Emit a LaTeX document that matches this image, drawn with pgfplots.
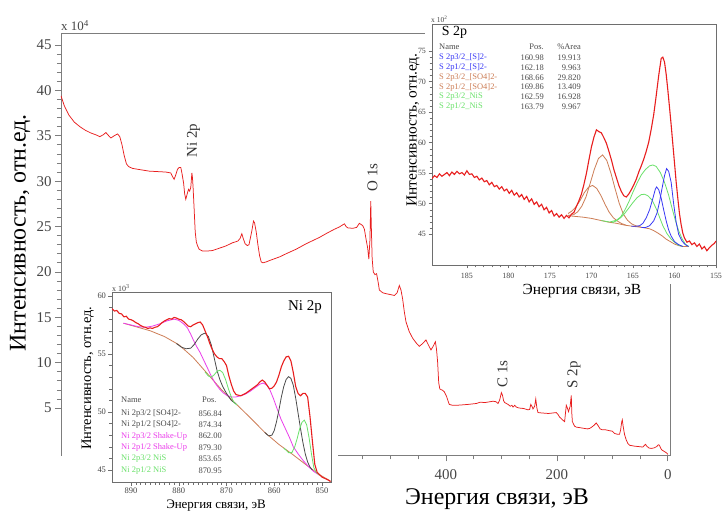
\documentclass[border=0pt]{standalone}
\usepackage{fontspec}
\setmainfont{Liberation Serif}
\usepackage{pgfplots}
\pgfplotsset{compat=1.18}
\definecolor{curvered}{RGB}{232,30,30}
\definecolor{axgray}{RGB}{125,125,125}
\definecolor{insgray}{RGB}{110,110,110}
\definecolor{tlab}{RGB}{70,70,70}
\definecolor{bgbrown}{RGB}{205,125,85}
\definecolor{cblue}{RGB}{55,55,245}
\definecolor{cgreen}{RGB}{105,225,105}
\definecolor{cmag}{RGB}{235,60,235}
\definecolor{cdark}{RGB}{75,75,75}
\newcommand{\fs}[1]{\fontsize{#1}{#1}\selectfont}
\begin{document}
\begin{tikzpicture}
\useasboundingbox (0,0) rectangle (723bp,513bp);
% ---------------- main survey spectrum ----------------
\begin{axis}[
  at={(61bp,57.5bp)}, anchor=south west,
  scale only axis, width=609bp, height=422.5bp,
  x dir=reverse, xmin=-4, xmax=1094, ymin=-0.23, ymax=46.32,
  axis line style={draw=axgray, line width=0.8pt},
  tick style={draw=axgray, line width=0.7pt},
  tick align=outside, tick pos=left,
  major tick length=6bp, minor tick length=4bp,
  xtick={0,200,400},
  minor xtick={50,100,150,250,300,350,450,500,550,600,650,700,750,800,850,900,950,1000,1050},
  ytick={5,10,...,45}, minor y tick num=4,
  scaled ticks=false,
  /pgf/number format/assume math mode=true,
  tick label style={font=\fs{15}, text=tlab},
  xticklabel style={yshift=-5bp},
  xlabel={Энергия связи, эВ},
  ylabel={Интенсивность, отн.ед.},
  xlabel style={at={(axis description cs:0.716,-0.103)}, anchor=center, font=\fs{24}},
  ylabel style={at={(axis description cs:-0.067,0.527)}, anchor=center, font=\fs{24}},
]
\addplot[curvered, line width=0.75pt] coordinates {
(1094,39.4) (1088,38.3) (1080,37.3) (1070,36.5) (1060,36.0) (1050,35.6) (1040,35.3)
(1031,35.1) (1024,34.9) (1018,35.1) (1013,35.35) (1008,35.0) (1004,34.75) (998,35.0)
(992,35.2) (988,34.9) (984,34.0) (980,32.8) (976,31.9) (972,31.6) (965,31.4) (955,31.3)
(945,31.2) (935,31.1) (920,31.05) (905,31.0) (896,30.9) (893,30.5) (890,30.2) (887,30.7)
(884,31.3) (881,31.5) (878,31.5) (876,30.9) (873,29.8) (871,28.6) (869,28.0) (866,28.7)
(864,29.1) (862,28.9) (860,29.3) (858,30.9) (857,30.4) (856,29.5) (854,27.0) (852,24.4)
(850,23.3) (848,22.9) (845,22.5) (839,22.3) (830,22.3) (821,22.35) (809,22.6) (797,22.85)
(785,23.2) (775,23.4) (771,23.7) (768,24.2) (765,23.6) (762,23.1) (758,22.9) (755,23.0)
(750,24.5) (747,25.6) (745,25.4) (742,24.4) (739,23.0) (736,21.8) (733,21.1) (730,21.0)
(724,21.1) (718,21.25) (700,21.65) (688,22.0) (670,22.5) (652,23.1) (640,23.45) (628,23.8)
(615,24.25) (601,24.7) (592,24.95) (583,25.3) (580,25.0) (577,24.85) (568,24.8) (561,24.9)
(556,25.35) (550,25.1) (547,24.7) (544,23.6) (541,22.6) (539,21.4) (537,23.5) (535.5,27.8)
(534.5,25.0) (533,21.5) (531,20.0) (528,19.7) (525,19.8) (522,18.8) (520,18.0) (514,17.7)
(508,17.6) (500,17.5) (493,17.4) (488,17.7) (484,18.5) (481,18.0) (478,17.0) (475,15.6)
(472,14.5) (466,13.4) (460,12.7) (454,12.2) (448,11.8) (442,12.1) (436,12.5) (432,12.0)
(427,11.4) (423,11.8) (419,12.3) (417,11.5) (415,10.1) (413,7.8) (411,7.1) (406,6.95)
(403,6.8) (399,6.3) (394,5.4) (388,5.3) (381,5.3) (370,5.35) (360,5.4) (345,5.5)
(338,5.65) (330,5.6) (320,5.7) (315,5.75) (310,5.7) (306,5.5) (303,5.9) (300,6.7)
(298,6.4) (296,5.8) (294,5.6) (288,5.4) (284,5.2) (281,5.3) (279,5.1) (276,5.3) (273,5.1)
(268,5.0) (260,4.95) (252,4.8) (249,4.85) (247,5.4) (245,5.2) (243,4.9) (240,5.2) (238,6.0)
(236,5.0) (234,4.5) (226,4.45) (215,4.4) (208,4.45) (201,4.5) (198,4.3) (195,4.0) (190,3.7)
(186,3.5) (184,4.7) (183,5.3) (181,5.0) (179,4.6) (176,5.2) (174,6.4) (173,4.4) (172,3.5)
(168,3.0) (165,2.9) (155,2.8) (145,2.7) (141,2.75) (137,2.9) (133,3.1) (129,3.35) (126,3.1)
(122,2.7) (118,2.6) (112,2.6) (105,2.5) (100,2.45) (96,2.2) (90,2.1) (87,2.1) (85,2.6)
(83,3.5) (82,3.7) (80.5,3.0) (78,2.1) (75,1.5) (72,1.1) (69,0.9) (60,0.8) (52,0.75) (45,0.7)
(42,0.9) (40,1.0) (38,0.8) (34,0.6) (30,0.55) (25,0.6) (20,0.75) (17,0.95) (15,0.9) (13,0.6)
(11,0.4) (6,0.2) (2,0.05) (0,-0.1)
};
\end{axis}
\node[anchor=base west, font=\fs{13}, text=tlab, inner sep=0] at (61bp,482bp) {x 10\textsuperscript{4}};
\node[rotate=90, font=\fs{15}, text=black!80] at (193.5bp,372.5bp) {Ni 2p};
\node[rotate=90, font=\fs{15}, text=black!80] at (372.5bp,335.5bp) {O 1s};
\node[rotate=90, font=\fs{15}, text=black!80] at (502.5bp,139bp) {C 1s};
\node[rotate=90, font=\fs{15}, text=black!80] at (574bp,138bp) {S 2p};
% white backgrounds of the insets
\fill[white] (425bp,229bp) rectangle (723bp,513bp);
\fill[white] (62bp,0bp) rectangle (338bp,234bp);
% ---------------- S 2p inset ----------------
\begin{axis}[
  at={(432bp,248bp)}, anchor=south west,
  scale only axis, width=284bp, height=241bp,
  x dir=reverse, xmin=155, xmax=189.2, ymin=39.97, ymax=79.43,
  axis line style={draw=insgray, line width=0.8pt},
  tick style={draw=insgray, line width=0.5pt},
  tick align=outside, tick pos=left,
  major tick length=3.5bp, minor tick length=2.5bp,
  xtick={155,160,...,185}, minor x tick num=4,
  ytick={45,50,...,75}, minor y tick num=4,
  scaled ticks=false,
  /pgf/number format/assume math mode=true,
  tick label style={font=\fs{8}, text=tlab},
  xticklabel style={yshift=-1bp},
  yticklabel style={xshift=1bp},
  xlabel={Энергия связи, эВ},
  ylabel={Интенсивность, отн.ед.},
  xlabel style={at={(axis description cs:0.528,-0.108)}, anchor=center, font=\fs{15.5}},
  ylabel style={at={(axis description cs:-0.067,0.560)}, anchor=center, font=\fs{15.5}},
]
\addplot[bgbrown, line width=0.8pt] coordinates {
(172.8,48.05) (172.5,48.0) (171,47.8) (170,47.6) (169,47.3) (168,47.0) (167,46.8) (166,46.5)
(165,46.3) (164,46.15) (163,45.9) (162.5,45.6) (162,45.2) (161.5,44.75) (161,44.2)
(160.5,43.8) (160,43.4) (159.5,43.15) (159,43.0) (158.3,43.0)
};
\addplot[bgbrown, line width=0.8pt] coordinates {
(172.8,48.1) (172.16,48.2) (171.66,48.67) (171.16,49.6) (170.66,51.1) (170.16,53.3)
(169.66,55.6) (169.16,57.4) (168.66,58.0) (168.16,57.1) (167.66,55.05) (167.16,52.5)
(166.66,50.1) (166.16,48.3) (165.66,47.3) (165.16,46.7) (164.66,46.4) (164.0,46.15)
};
\addplot[bgbrown, line width=0.8pt] coordinates {
(172.8,48.4) (172.36,48.8) (171.86,49.5) (171.36,50.55) (170.86,51.8) (170.36,52.7)
(169.86,53.0) (169.36,52.5) (168.86,51.35) (168.36,49.9) (167.86,48.6) (167.36,47.7)
(166.86,47.15) (166.36,46.75) (165.86,46.5)
};
\addplot[cgreen, line width=0.8pt] coordinates {
(168.8,47.25) (167.8,47.0) (167.0,47.3) (166.5,47.8) (166.0,48.9) (165.5,50.3) (165.0,51.9)
(164.5,53.4) (164.0,54.7) (163.5,55.6) (163.0,56.2) (162.6,56.35) (162.2,56.1) (161.7,55.1)
(161.2,53.5) (160.7,51.4) (160.3,49.3) (159.9,47.3) (159.5,45.6) (159.1,44.3) (158.7,43.4)
(158.3,43.0)
};
\addplot[cgreen, line width=0.8pt] coordinates {
(167.5,46.9) (167.0,47.2) (166.5,47.7) (166.0,48.4) (165.5,49.3) (165.0,50.2) (164.5,51.0)
(164.0,51.5) (163.6,51.55) (163.2,51.3) (162.7,50.6) (162.2,49.2) (161.8,47.8) (161.4,46.4)
(160.9,45.1) (160.4,44.2) (159.9,43.6) (159.5,43.2) (159.0,43.0)
};
\addplot[cblue, line width=0.8pt] coordinates {
(164.0,46.1) (163.5,46.1) (163.0,46.4) (162.5,47.2) (162.1,48.5) (161.8,50.3) (161.5,52.5)
(161.2,54.6) (160.95,55.75) (160.7,55.3) (160.4,53.5) (160.1,50.0) (159.8,47.0) (159.5,45.0)
(159.1,43.9) (158.7,43.3) (158.3,43.0)
};
\addplot[cblue, line width=0.8pt] coordinates {
(165.2,46.3) (164.7,46.3) (164.2,46.4) (163.8,46.8) (163.4,47.7) (163.0,49.0) (162.6,50.9)
(162.3,52.4) (162.15,52.75) (161.9,52.3) (161.6,50.9) (161.3,49.0) (161.0,47.2) (160.7,45.7)
(160.4,44.7) (160.0,43.8) (159.5,43.3) (159.0,43.0)
};
\addplot[curvered, line width=1.1pt] coordinates {
(189.2,54.1) (188.9,54.6) (188.6,54.3) (188.3,54.9) (188.0,54.5) (187.7,54.8) (187.4,55.1)
(187.1,54.6) (186.8,55.2) (186.5,54.8) (186.2,55.3) (185.9,54.9) (185.6,55.1) (185.3,54.7)
(185.0,55.4) (184.7,54.8) (184.4,54.9) (184.1,54.3) (183.8,54.5) (183.5,53.9) (183.2,54.2)
(182.9,53.6) (182.6,53.8) (182.3,53.1) (182.0,53.5) (181.7,52.8) (181.4,53.0) (181.1,52.4)
(180.8,52.8) (180.5,52.1) (180.2,52.4) (179.9,51.7) (179.6,52.2) (179.3,51.4) (179.0,51.8)
(178.7,51.1) (178.4,51.5) (178.1,50.7) (177.8,51.2) (177.5,50.3) (177.2,50.8) (176.9,49.9)
(176.6,50.3) (176.3,49.5) (176.0,49.9) (175.7,49.0) (175.4,49.4) (175.1,48.5) (174.8,48.9)
(174.5,48.0) (174.2,48.4) (173.9,47.8) (173.6,48.2) (173.3,47.6) (173.0,48.1) (172.7,47.7)
(172.4,48.3) (172.1,48.6) (171.8,49.6) (171.5,50.5) (171.2,51.6) (170.9,53.2) (170.6,55.0)
(170.3,57.2) (170.0,59.3) (169.7,60.9) (169.4,62.1) (169.1,61.8) (168.8,61.6) (168.5,60.8)
(168.2,59.9) (167.9,58.6) (167.6,57.2) (167.3,55.6) (167.0,54.3) (166.7,53.0) (166.4,52.0)
(166.1,51.3) (165.8,51.1) (165.5,51.6) (165.2,52.3) (164.9,53.1) (164.6,54.0) (164.3,55.2)
(164.0,56.2) (163.7,57.3) (163.4,58.6) (163.1,60.1) (162.8,62.2) (162.5,64.6) (162.2,67.7)
(161.9,71.0) (161.6,73.8) (161.4,74.0) (161.2,73.2) (161.0,71.2) (160.8,68.6) (160.6,65.8)
(160.4,62.9) (160.2,59.8) (160.0,56.7) (159.8,53.6) (159.6,50.9) (159.4,48.4) (159.2,46.6)
(159.0,45.2) (158.8,44.4) (158.5,43.7) (158.2,43.9) (157.9,43.3) (157.6,43.6) (157.3,43.0)
(157.0,43.4) (156.7,42.6) (156.4,43.0) (156.1,42.3) (155.8,42.8) (155.5,43.2) (155.2,43.5)
(155.0,43.9)
};
\end{axis}
\node[anchor=base west, font=\fs{7.5}, text=tlab, inner sep=0] at (431bp,490bp) {x 10\textsuperscript{2}};
\node[anchor=center, font=\fs{14}] at (454.5bp,481bp) {S 2p};
\begin{scope}[font=\fs{8.5}, inner sep=0]
\node[anchor=west, text=cdark] at (439bp,466.5bp) {Name};
\node[anchor=east, text=cdark] at (544bp,466.5bp) {Pos.};
\node[anchor=east, text=cdark] at (581bp,466.5bp) {\%Area};
\node[anchor=west, text=cblue] at (439bp,455.2bp) {S 2p3/2\_[S]2-};
\node[anchor=west, text=cblue] at (439bp,445.4bp) {S 2p1/2\_[S]2-};
\node[anchor=west, text=bgbrown] at (439bp,435.6bp) {S 2p3/2\_[SO4]2-};
\node[anchor=west, text=bgbrown] at (439bp,425.8bp) {S 2p1/2\_[SO4]2-};
\node[anchor=west, text=cgreen] at (439bp,416bp) {S 2p3/2\_NiS};
\node[anchor=west, text=cgreen] at (439bp,406.2bp) {S 2p1/2\_NiS};
\node[anchor=east, text=cdark] at (544bp,455.2bp) {160.98};
\node[anchor=east, text=cdark] at (544bp,445.4bp) {162.18};
\node[anchor=east, text=cdark] at (544bp,435.6bp) {168.66};
\node[anchor=east, text=cdark] at (544bp,425.8bp) {169.86};
\node[anchor=east, text=cdark] at (544bp,416bp) {162.59};
\node[anchor=east, text=cdark] at (544bp,406.2bp) {163.79};
\node[anchor=east, text=cdark] at (581bp,455.2bp) {19.913};
\node[anchor=east, text=cdark] at (581bp,445.4bp) {9.963};
\node[anchor=east, text=cdark] at (581bp,435.6bp) {29.820};
\node[anchor=east, text=cdark] at (581bp,425.8bp) {13.409};
\node[anchor=east, text=cdark] at (581bp,416bp) {16.928};
\node[anchor=east, text=cdark] at (581bp,406.2bp) {9.967};
\end{scope}
% ---------------- Ni 2p inset ----------------
\begin{axis}[
  at={(112bp,31bp)}, anchor=south west,
  scale only axis, width=219bp, height=190bp,
  x dir=reverse, xmin=848.1, xmax=894, ymin=43.97, ymax=60.34,
  axis line style={draw=insgray, line width=0.8pt},
  tick style={draw=insgray, line width=0.5pt},
  tick align=outside, tick pos=left,
  major tick length=3.5bp, minor tick length=2.5bp,
  xtick={850,860,...,890}, minor x tick num=9,
  ytick={45,50,55,60}, minor y tick num=4,
  scaled ticks=false,
  /pgf/number format/assume math mode=true,
  /pgf/number format/1000 sep={},
  tick label style={font=\fs{8.5}, text=tlab},
  xticklabel style={yshift=-0.5bp, inner sep=1.5bp},
  yticklabel style={xshift=1bp},
  xlabel={Энергия связи, эВ},
  ylabel={Интенсивность, отн.ед.},
  xlabel style={at={(axis description cs:0.475,-0.123)}, anchor=center, inner sep=0pt, font=\fs{13}},
  ylabel style={at={(axis description cs:-0.110,0.547)}, anchor=center, font=\fs{14.5}},
]
\addplot[bgbrown, line width=0.8pt] coordinates {
(891.6,57.65) (889.0,57.35) (886.0,57.0) (883.0,56.5) (880.0,55.8) (877.0,54.7) (874.0,53.3)
(871.0,51.9) (868.0,50.7) (865.0,49.5) (862.0,48.25) (859.0,47.2) (856.0,46.3) (853.0,45.35)
(850.5,44.6) (848.2,44.05)
};
\addplot[cmag, line width=0.8pt] coordinates {
(891.6,57.65) (890.0,57.5) (888.5,57.35) (887.0,57.3) (885.5,57.4) (884.0,57.6) (882.5,57.85)
(881.0,58.0) (880.0,57.9) (879.0,57.6) (878.2,57.25) (877.5,56.7) (877.0,56.25) (876.2,55.6)
(875.5,55.1) (874.7,54.4) (874.0,53.8) (873.2,53.1) (872.4,52.5) (871.5,52.0) (870.7,51.65)
(869.8,51.4) (869.0,51.3) (868.0,51.3) (867.0,51.4) (866.0,51.55) (865.0,51.8) (864.0,52.1)
(863.0,52.4) (862.3,52.5) (861.5,52.3) (860.9,51.9) (860.2,51.2) (859.5,50.4) (858.6,49.4)
(857.7,48.6) (856.8,47.8) (856.0,47.0) (855.0,46.4) (853.9,45.8) (852.8,45.3) (851.8,44.9)
(850.5,44.55)
};
\addplot[cdark, line width=0.8pt] coordinates {
(880.5,55.9) (879.5,55.6) (878.5,55.45) (877.5,55.5) (876.8,55.8) (876.0,56.3) (875.3,56.65)
(874.5,56.8) (873.8,56.5) (873.2,55.8) (872.6,54.7) (872.0,53.6) (871.4,52.8) (870.8,52.2)
(870.0,51.6) (869.0,51.0) (868.0,50.7)
};
\addplot[cdark, line width=0.8pt] coordinates {
(862.0,48.25) (861.2,47.95) (860.5,48.0) (860.0,48.4) (859.5,49.2) (859.0,50.2) (858.5,51.3)
(858.0,52.2) (857.5,52.8) (857.0,53.05) (856.5,52.9) (856.0,52.3) (855.5,51.2) (855.0,49.9)
(854.5,48.6) (854.0,47.4) (853.5,46.4) (853.0,45.7) (852.5,45.25) (852.0,45.0)
};
\addplot[cgreen, line width=0.8pt] coordinates {
(874.5,53.45) (873.8,53.1) (873.2,53.0) (872.6,53.2) (872.0,53.5) (871.4,53.6) (870.8,53.4)
(870.2,52.8) (869.6,52.0) (869.0,51.3) (868.4,50.8) (867.8,50.6)
};
\addplot[cgreen, line width=0.8pt] coordinates {
(858.0,46.9) (857.0,46.5) (856.3,46.5) (855.7,47.0) (855.2,47.7) (854.7,48.5) (854.2,49.1)
(853.7,49.3) (853.2,48.9) (852.7,47.8) (852.2,46.4) (851.7,45.2) (851.2,44.8) (850.5,44.55)
};
\addplot[curvered, line width=1.1pt] coordinates {
(894.0,58.9) (893.5,58.7) (893.0,58.75) (892.5,58.5) (892.0,58.45) (891.5,58.2) (891.0,58.25)
(890.5,58.0) (890.0,57.95) (889.5,57.85) (889.0,57.7) (888.5,57.6) (888.0,57.45) (887.5,57.35)
(887.0,57.3) (886.5,57.2) (886.0,57.25) (885.5,57.2) (885.0,57.3) (884.5,57.35) (884.0,57.5)
(883.5,57.7) (883.0,57.85) (882.5,57.95) (882.0,58.05) (881.5,58.0) (881.0,58.15) (880.5,58.1)
(880.0,58.0) (879.5,57.95) (879.0,57.8) (878.5,57.6) (878.0,57.4) (877.5,57.35) (877.0,57.5)
(876.5,57.6) (876.0,57.7) (875.5,57.75) (875.0,57.5) (874.5,57.0) (874.0,56.5) (873.5,55.9)
(873.0,55.4) (872.5,55.0) (872.0,54.75) (871.5,54.6) (871.0,54.6) (870.5,54.35) (870.0,54.0)
(869.5,53.1) (869.0,52.4) (868.5,51.8) (868.0,51.5) (867.5,51.45) (867.0,51.4) (866.5,51.5)
(866.0,51.6) (865.5,51.75) (865.0,51.9) (864.5,52.05) (864.0,52.2) (863.5,52.35) (863.0,52.6)
(862.5,52.75) (862.0,52.6) (861.5,52.3) (861.0,52.0) (860.5,52.05) (860.0,52.25) (859.5,52.6)
(859.0,53.2) (858.5,53.9) (858.0,54.4) (857.5,54.75) (857.0,54.8) (856.5,54.4) (856.0,53.4)
(855.5,52.2) (855.0,51.6) (854.5,51.4) (854.0,51.6) (853.5,51.6) (853.0,51.3) (852.5,49.6)
(852.0,47.5) (851.5,45.5) (851.0,44.8) (850.5,44.6) (850.0,44.4) (849.5,44.3) (849.0,44.2)
(848.5,44.1) (848.2,44.0)
};
\end{axis}
\node[anchor=base west, font=\fs{8}, text=tlab, inner sep=0] at (112bp,221.5bp) {x 10\textsuperscript{3}};
\node[anchor=center, font=\fs{15}] at (305bp,205.5bp) {Ni 2p};
\begin{scope}[font=\fs{8.5}, inner sep=0]
\node[anchor=west, text=cdark] at (121bp,113bp) {Name};
\node[anchor=west, text=cdark] at (202bp,113bp) {Pos.};
\node[anchor=west, text=cdark] at (121bp,99.7bp) {Ni 2p3/2 [SO4]2-};
\node[anchor=west, text=cdark] at (121bp,88.3bp) {Ni 2p1/2 [SO4]2-};
\node[anchor=west, text=cmag] at (121bp,76.9bp) {Ni 2p3/2 Shake-Up};
\node[anchor=west, text=cmag] at (121bp,65.5bp) {Ni 2p1/2 Shake-Up};
\node[anchor=west, text=cgreen] at (121bp,54.1bp) {Ni 2p3/2 NiS};
\node[anchor=west, text=cgreen] at (121bp,42.7bp) {Ni 2p1/2 NiS};
\node[anchor=east, text=cdark] at (222bp,99.7bp) {856.84};
\node[anchor=east, text=cdark] at (222bp,88.3bp) {874.34};
\node[anchor=east, text=cdark] at (222bp,76.9bp) {862.00};
\node[anchor=east, text=cdark] at (222bp,65.5bp) {879.30};
\node[anchor=east, text=cdark] at (222bp,54.1bp) {853.65};
\node[anchor=east, text=cdark] at (222bp,42.7bp) {870.95};
\end{scope}
\end{tikzpicture}
\end{document}
